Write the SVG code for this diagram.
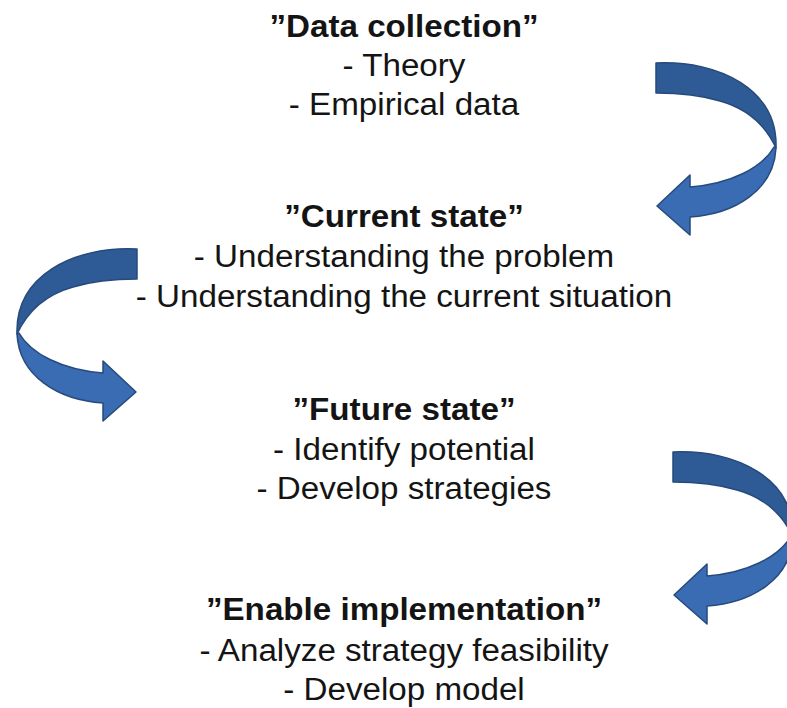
<svg xmlns="http://www.w3.org/2000/svg" xmlns:xlink="http://www.w3.org/1999/xlink" width="787" height="708" viewBox="0 0 787 708">
  <style>
    .t { font-family: "Liberation Sans", Arial, sans-serif; font-size: 31px; fill: #141414; text-anchor: middle; }
    .b { font-weight: bold; }
    .back { fill: #2e5a95; stroke: #264a7b; stroke-width: 1.5; stroke-linejoin: round; }
    .front { fill: #3a6cb3; stroke: #264a7b; stroke-width: 1.5; stroke-linejoin: round; }
  </style>
  <defs>
    <!-- twisted ribbon arrow: tail at upper left, loops right, head points left -->
    <g id="curvedArrow">
      <path class="back" d="M656,63 C720,60 778,90 776,148 C764,122 745,108 720,101 C700,95 680,93 656,93 Z"/>
      <path class="front" d="M776,148 C774,190 735,214 690,217 L690,235 L657,206 L690,175 L690,187 C730,184 762,168 774,147 Z"/>
    </g>
  </defs>
  <rect width="787" height="708" fill="#ffffff"/>

  <g id="connectors">
    <use id="arrow-collection-current" xlink:href="#curvedArrow"/>
    <use id="arrow-current-future" xlink:href="#curvedArrow" transform="translate(793,186) scale(-1,1)"/>
    <use id="arrow-future-implementation" xlink:href="#curvedArrow" transform="translate(17,389)"/>
  </g>

  <g id="data-collection" transform="translate(404,0) scale(1.07,1)">
    <text class="t b" x="0" y="37">”Data collection”</text>
    <text class="t" x="0" y="76">- Theory</text>
    <text class="t" x="0" y="115">- Empirical data</text>
  </g>

  <g id="current-state" transform="translate(404,0) scale(1.07,1)">
    <text class="t b" x="0" y="227">”Current state”</text>
    <text class="t" x="0" y="267">- Understanding the problem</text>
    <text class="t" x="0" y="307">- Understanding the current situation</text>
  </g>

  <g id="future-state" transform="translate(404,0) scale(1.07,1)">
    <text class="t b" x="0" y="420">”Future state”</text>
    <text class="t" x="0" y="460">- Identify potential</text>
    <text class="t" x="0" y="499">- Develop strategies</text>
  </g>

  <g id="enable-implementation" transform="translate(404,0) scale(1.07,1)">
    <text class="t b" x="0" y="620">”Enable implementation”</text>
    <text class="t" x="0" y="661">- Analyze strategy feasibility</text>
    <text class="t" x="0" y="700">- Develop model</text>
  </g>
</svg>
